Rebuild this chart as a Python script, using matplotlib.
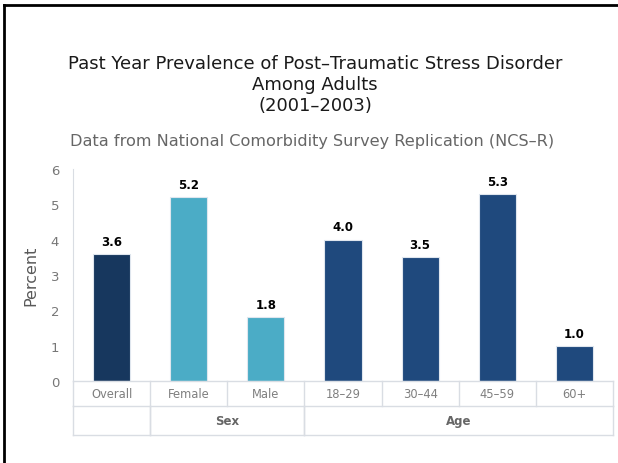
import matplotlib
matplotlib.use("Agg")
import matplotlib.pyplot as plt
from matplotlib.lines import Line2D

# data
categories = ["Overall", "Female", "Male", "18-29", "30-44", "45-59", "60+"]
values = [3.6, 5.2, 1.8, 4.0, 3.5, 5.3, 1.0]
groups = [("", 0, 0), ("Sex", 1, 2), ("Age", 3, 6)]
yticks = [0, 1, 2, 3, 4, 5, 6]

bar_colors = ["#17375e", "#4bacc6", "#4bacc6", "#1f497d", "#1f497d", "#1f497d", "#1f497d"]
grid_col = "#d9dde3"
gray = "#595959"

fig = plt.figure(figsize=(6.18, 4.64), dpi=100)
ax = fig.add_axes([0.118, 0.177, 0.874, 0.457])

x = list(range(len(categories)))
ax.bar(x, values, width=0.48, color=bar_colors, edgecolor="#dfe6ee", linewidth=0.8, zorder=3)
for xi, v in zip(x, values):
    ax.text(xi, v + 0.17, "%.1f" % v, ha="center", va="bottom", fontsize=8.5,
            fontweight="bold", color="black")

ax.set_xlim(-0.5, len(categories) - 0.5)
ax.set_ylim(0, 6)
ax.set_yticks(yticks)
ax.tick_params(axis="y", length=0, labelsize=9.5, labelcolor="#777777", pad=10)
ax.set_xticks([])
for s in ["top", "right", "bottom"]:
    ax.spines[s].set_visible(False)
ax.spines["left"].set_color(grid_col)
ax.set_ylabel("Percent", fontsize=11.5, color=gray, labelpad=9)

# category table under the axis
r1 = -25 / 35.3
r2 = -54 / 35.3
lines = [((-0.5, 6.5), (0, 0)), ((-0.5, 6.5), (r1, r1)), ((-0.5, 6.5), (r2, r2))]
for i in range(len(categories) + 1):
    lines.append(((i - 0.5, i - 0.5), (0, r1)))
for name, a, b in groups:
    lines.append(((a - 0.5, a - 0.5), (r1, r2)))
    lines.append(((b + 0.5, b + 0.5), (r1, r2)))
for xs, ys in lines:
    ax.add_line(Line2D(xs, ys, color=grid_col, linewidth=1, clip_on=False, zorder=4))

for xi, c in zip(x, categories):
    ax.text(xi, r1 / 2, c.replace("-", "\u2013"), ha="center", va="center",
            fontsize=8.3, color="#7f7f7f")
for name, a, b in groups:
    ax.text((a + b) / 2, (r1 + r2) / 2, name, ha="center", va="center",
            fontsize=8.5, fontweight="bold", color="#666666")

fig.text(0.51, 0.817, "Past Year Prevalence of Post\u2013Traumatic Stress Disorder\nAmong Adults\n(2001\u20132003)",
         ha="center", va="center", fontsize=13, color="#1a1a1a", linespacing=1.2)
fig.text(0.505, 0.694, "Data from National Comorbidity Survey Replication (NCS\u2013R)",
         ha="center", va="center", fontsize=11.6, color="#666666")

# frame lines on left and top edge
fig.add_artist(Line2D([0.007, 0.007], [0, 0.988], transform=fig.transFigure, color="black", linewidth=2))
fig.add_artist(Line2D([0.006, 1.0], [0.988, 0.988], transform=fig.transFigure, color="black", linewidth=2))

fig.savefig("out.png", dpi=100)
